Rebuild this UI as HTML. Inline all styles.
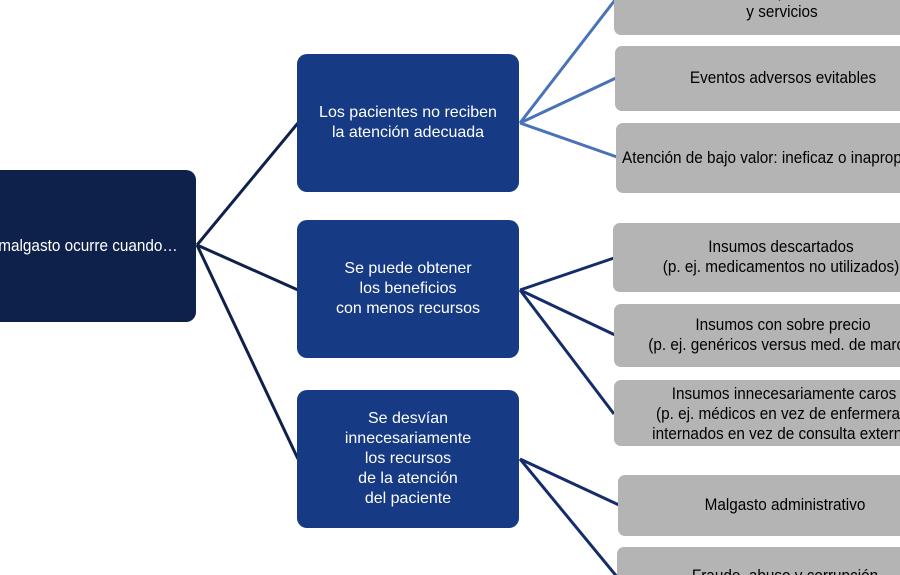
<!DOCTYPE html>
<html><head><meta charset="utf-8"><style>
html,body{margin:0;padding:0;width:900px;height:575px;overflow:hidden;background:#fff;}
#w{position:relative;width:900px;height:575px;overflow:hidden;font-family:"Liberation Sans",sans-serif;}
.b{position:absolute;border-radius:10px;}
.r{background:#0e214a;color:#fff;}
.m{background:#163a83;color:#fff;font-size:16px;line-height:20px;text-align:center;display:flex;align-items:center;justify-content:center;}
.g{background:#b4b4b4;border-radius:7px;}
.t{position:absolute;white-space:nowrap;font-size:17px;line-height:20px;color:#000;text-align:center;transform:translateX(-50%) scaleX(0.9);}
svg{position:absolute;left:0;top:0;}
</style></head><body><div id="w">
<svg width="900" height="575">
<g stroke="#0e214a" stroke-width="3" fill="none">
<line x1="197" y1="245" x2="298" y2="123"/><line x1="197" y1="245" x2="298" y2="290"/><line x1="197" y1="245" x2="298" y2="459"/>
</g>
<g stroke="#4a72b8" stroke-width="3"><line x1="520" y1="123" x2="615" y2="0"/><line x1="520" y1="123" x2="616" y2="78"/><line x1="520" y1="123" x2="617" y2="157"/></g>
<g stroke="#142d6a" stroke-width="3"><line x1="520" y1="290" x2="614" y2="258"/><line x1="520" y1="290" x2="615" y2="335"/><line x1="520" y1="290" x2="614" y2="414"/><line x1="520" y1="459" x2="619" y2="505"/><line x1="520" y1="459" x2="618" y2="578"/></g>
</svg>
<div class="b r" style="left:-20px;top:170px;width:216px;height:152px"></div>
<div class="t" style="left:88px;top:236px;color:#fff">malgasto ocurre cuando…</div>
<div class="b m" style="left:297px;top:54px;width:222px;height:138px">Los pacientes no reciben<br>la atención adecuada</div>
<div class="b m" style="left:297px;top:220px;width:222px;height:138px">Se puede obtener<br>los beneficios<br>con menos recursos</div>
<div class="b m" style="left:297px;top:390px;width:222px;height:138px">Se desvían<br>innecesariamente<br>los recursos<br>de la atención<br>del paciente</div>
<div class="b g" style="left:614px;top:-10px;width:300px;height:45px"></div>
<div class="b g" style="left:615px;top:46px;width:300px;height:65px"></div>
<div class="b g" style="left:616px;top:123px;width:300px;height:70px"></div>
<div class="b g" style="left:613px;top:223px;width:300px;height:69px"></div>
<div class="b g" style="left:614px;top:304px;width:300px;height:63px"></div>
<div class="b g" style="left:614px;top:380px;width:300px;height:66px"></div>
<div class="b g" style="left:618px;top:475px;width:300px;height:61px"></div>
<div class="b g" style="left:617px;top:547px;width:300px;height:40px"></div>
<div class="t" style="left:782px;top:-18px">p<br>y servicios</div>
<div class="t" style="left:783px;top:68px">Eventos adversos evitables</div>
<div class="t" style="left:622px;top:148px;transform:scaleX(0.9);transform-origin:left">Atención de bajo valor: ineficaz o inapropiada</div>
<div class="t" style="left:781px;top:237px">Insumos descartados<br>(p. ej. medicamentos no utilizados)</div>
<div class="t" style="left:783px;top:315px">Insumos con sobre precio<br>(p. ej. genéricos versus med. de marca)</div>
<div class="t" style="left:784px;top:384px">Insumos innecesariamente caros<br>(p. ej. médicos en vez de enfermeras;<br>internados en vez de consulta externa)</div>
<div class="t" style="left:785px;top:495px">Malgasto administrativo</div>
<div class="t" style="left:785px;top:566px">Fraude, abuso y corrupción</div>
</div></body></html>
